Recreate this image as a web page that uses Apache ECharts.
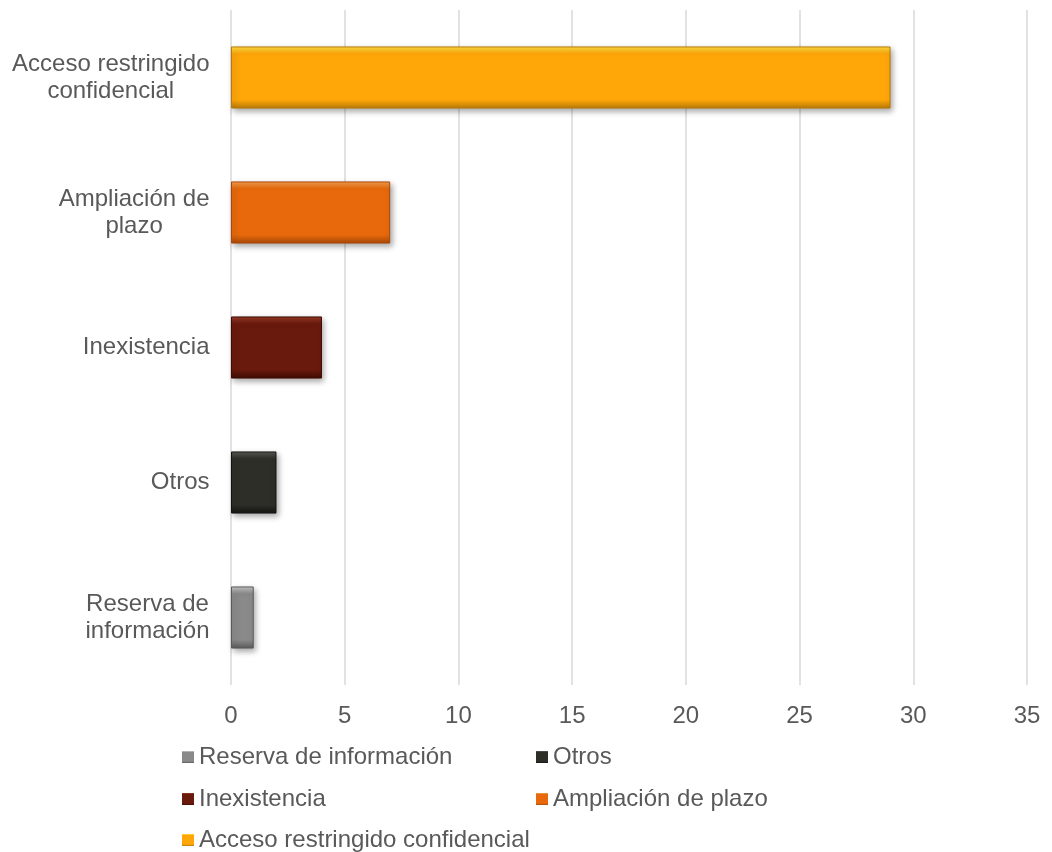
<!DOCTYPE html>
<html><head><meta charset="utf-8">
<script src="https://cdn.jsdelivr.net/npm/echarts@6/dist/echarts.min.js"></script>
<style>html,body{margin:0;padding:0;background:#fff}#c{width:1052px;height:852px}</style>
</head><body><div id="c"></div>
<script>
const categories = ['Reserva de información','Otros','Inexistencia','Ampliación de plazo','Acceso restringido confidencial'];
const categoryLabels = ['Reserva de\ninformación','Otros','Inexistencia','Ampliación de\nplazo','Acceso restringido\nconfidencial'];
const seriesNames = ['Reserva de información','Otros','Inexistencia','Ampliación de plazo','Acceso restringido confidencial'];
const values = [1, 2, 4, 7, 29];
const colors = ['#8a8a8a','#2d2e28','#6a1a0c','#e8690b','#ffa609'];
const lightColors = ['#c8c8c8','#5a5b55','#9a3a28','#f7a050','#ffe040'];
const darkColors = ['#5a5a5a','#141412','#3e0c05','#a8480a','#b87a08'];
const xTicks = [0,5,10,15,20,25,30,35];

const FONT = 'Liberation Sans';
const ctx = document.createElement('canvas').getContext('2d');
ctx.font = '24px "' + FONT + '"';
const rich = {};
categoryLabels.forEach((lab,i)=>{
  const w = Math.max(...lab.split('\n').map(s=>ctx.measureText(s).width)) + 1;
  rich['l'+i] = {width:w, align:'center', fontFamily:FONT, fontSize:24, color:'#595959', lineHeight:27};
});

const chart = echarts.init(document.getElementById('c'));
const series = seriesNames.map((n,i)=>({
  name:n, type:'bar', stack:'t', barWidth:'46%',
  data: categories.map((c,j)=> j===i ? values[i] : '-'),
  itemStyle:{
    color:{type:'linear',x:0,y:0,x2:0,y2:1,colorStops:[
      {offset:0,color:lightColors[i]},{offset:0.12,color:colors[i]},
      {offset:0.86,color:colors[i]},{offset:1,color:darkColors[i]}]},
    borderColor:darkColors[i], borderWidth:1,
    shadowColor:'rgba(0,0,0,0.35)', shadowBlur:6, shadowOffsetX:2, shadowOffsetY:3
  }
}));
const legendPos = [[182,745],[536,745],[182,787],[536,787],[182,828]];
const legends = seriesNames.map((n,i)=>({
  data:[n], left:legendPos[i][0], top:legendPos[i][1], padding:0,
  icon:'rect', itemWidth:12, itemHeight:12, itemGap:4,
  itemStyle:{borderWidth:0,shadowBlur:0,shadowOffsetX:0,shadowOffsetY:0},
  textStyle:{fontFamily:FONT,fontSize:24,color:'#595959'},
  selectedMode:false
}));
chart.setOption({
  animation:false,
  grid:{left:231,right:25,top:10,bottom:167,containLabel:false},
  legend:legends,
  xAxis:{type:'value',min:0,max:35,interval:5,
    axisLine:{show:false},axisTick:{show:false},
    splitLine:{lineStyle:{color:'#d9d9d9',width:1.5}},
    axisLabel:{fontFamily:FONT,fontSize:24,color:'#595959',margin:19,
      formatter:v=>xTicks.includes(v)?String(v):''}},
  yAxis:{type:'category',data:categories,
    axisLine:{show:false},axisTick:{show:false},
    axisLabel:{fontFamily:FONT,fontSize:24,color:'#595959',margin:21,align:'right',rich:rich,
      formatter:(v,i)=>categoryLabels[i].split('\n').map(s=>'{l'+i+'|'+s+'}').join('\n')}},
  series:series
});
</script></body></html>
